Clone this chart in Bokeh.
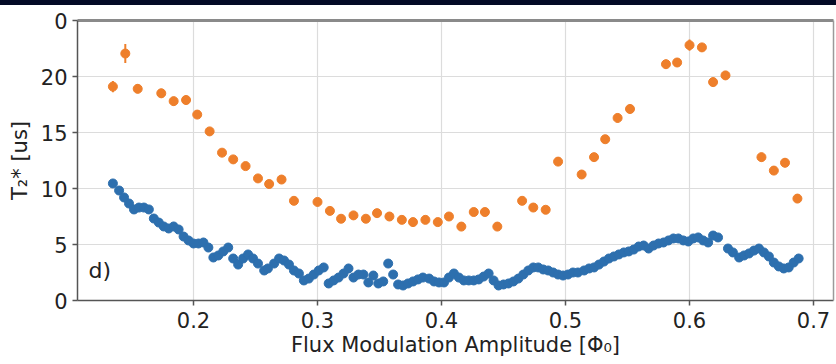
from bokeh.plotting import figure
from bokeh.models import FixedTicker, LinearAxis, Label, Range1d, Div
from bokeh.layouts import column
from bokeh.embed import file_html
from bokeh.resources import INLINE

x_ticks = [0.2, 0.3, 0.4, 0.5, 0.6, 0.7]
y_ticks = [0, 5, 10, 15, 20, 25]
y_tick_labels = {25: "0"}

orange_x = [0.135, 0.145, 0.155, 0.174, 0.184, 0.194, 0.203, 0.213, 0.223, 0.232,
            0.242, 0.252, 0.261, 0.271, 0.281, 0.300, 0.310, 0.319, 0.329, 0.339,
            0.348, 0.358, 0.368, 0.377, 0.387, 0.397, 0.406, 0.416, 0.426, 0.435,
            0.445, 0.465, 0.474, 0.484, 0.494, 0.513, 0.523, 0.532, 0.542, 0.552,
            0.581, 0.590, 0.600, 0.610, 0.619, 0.629, 0.658, 0.668, 0.677, 0.687]
orange_y = [19.1, 22.05, 18.9, 18.5, 17.8, 17.9, 16.6, 15.1, 13.2, 12.6,
            12.0, 10.9, 10.4, 10.8, 8.9, 8.8, 8.0, 7.3, 7.6, 7.3,
            7.8, 7.5, 7.2, 7.0, 7.2, 7.0, 7.5, 6.6, 7.9, 7.9,
            6.6, 8.9, 8.3, 8.1, 12.4, 11.25, 12.8, 14.4, 16.3, 17.1,
            21.1, 21.25, 22.8, 22.6, 19.5, 20.1, 12.8, 11.6, 12.3, 9.1]
orange_err = [0.5, 0.85, 0.4, 0.4, 0.4, 0.4, 0.3, 0.3, 0.3, 0.3,
              0.3, 0.3, 0.3, 0.3, 0.3, 0.3, 0.3, 0.3, 0.3, 0.3,
              0.3, 0.3, 0.3, 0.3, 0.3, 0.3, 0.3, 0.3, 0.3, 0.3,
              0.3, 0.3, 0.3, 0.3, 0.4, 0.3, 0.3, 0.3, 0.4, 0.4,
              0.4, 0.4, 0.5, 0.4, 0.4, 0.4, 0.4, 0.4, 0.4, 0.4]

blue_x = [0.135, 0.140, 0.144, 0.148, 0.152, 0.156, 0.160, 0.164, 0.168, 0.172,
          0.176, 0.180, 0.184, 0.188, 0.192, 0.196, 0.200, 0.204, 0.208, 0.212,
          0.216, 0.220, 0.224, 0.228, 0.232, 0.236, 0.240, 0.244, 0.248, 0.252,
          0.257, 0.260, 0.265, 0.269, 0.273, 0.277, 0.281, 0.285, 0.289, 0.293,
          0.297, 0.301, 0.305, 0.309, 0.313, 0.317, 0.321, 0.325, 0.329, 0.333,
          0.337, 0.341, 0.345, 0.349, 0.353, 0.357, 0.361, 0.365, 0.369, 0.373,
          0.377, 0.381, 0.385, 0.390, 0.394, 0.398, 0.402, 0.406, 0.410, 0.414,
          0.418, 0.422, 0.426, 0.430, 0.434, 0.438, 0.442, 0.446, 0.450, 0.454,
          0.458, 0.462, 0.466, 0.470, 0.474, 0.478, 0.482, 0.486, 0.490, 0.494,
          0.498, 0.502, 0.506, 0.510, 0.515, 0.519, 0.523, 0.527, 0.531, 0.535,
          0.539, 0.543, 0.547, 0.551, 0.555, 0.559, 0.563, 0.567, 0.571, 0.575,
          0.579, 0.583, 0.587, 0.591, 0.595, 0.599, 0.603, 0.607, 0.611, 0.615,
          0.619, 0.623,
          0.631, 0.635, 0.640, 0.644, 0.648, 0.652, 0.656, 0.660, 0.664, 0.668,
          0.672, 0.676, 0.680, 0.684, 0.688]
blue_y = [10.45, 9.82, 9.20, 8.66, 8.13, 8.30, 8.30, 8.13, 7.32, 6.96,
          6.61, 6.43, 6.61, 6.34, 5.71, 5.36, 5.09, 5.09, 5.18, 4.73,
          3.84, 4.02, 4.38, 4.73, 3.75, 3.21, 3.75, 4.11, 3.75, 3.30,
          2.68, 2.86, 3.30, 3.75, 3.57, 3.21, 2.68, 2.41, 1.79, 1.96,
          2.32, 2.68, 2.95, 1.52, 1.79, 2.05, 2.41, 2.86, 2.05, 2.32,
          2.32, 1.61, 2.23, 1.52, 1.70, 3.30, 2.32, 1.43, 1.34, 1.52,
          1.70, 1.88, 2.05, 1.96, 1.70, 1.61, 1.61, 2.05, 2.41, 2.05,
          1.79, 1.79, 1.79, 1.88, 2.14, 2.41, 1.79, 1.34, 1.43, 1.52,
          1.70, 1.96, 2.32, 2.68, 2.95, 2.95, 2.77, 2.68, 2.50, 2.32,
          2.23, 2.32, 2.50, 2.50, 2.68, 2.86, 2.95, 3.21, 3.48, 3.75,
          3.93, 4.11, 4.29, 4.38, 4.55, 4.82, 4.91, 4.64, 4.91, 5.09,
          5.18, 5.36, 5.54, 5.54, 5.36, 5.27, 5.54, 5.63, 5.36, 5.18,
          5.80, 5.63,
          4.64, 4.29, 3.84, 4.02, 4.20, 4.46, 4.64, 4.29, 3.93, 3.39,
          3.04, 2.86, 2.95, 3.39, 3.75]

ORANGE = "#ee7f2b"
BLUE = "#2d6fae"
FONT = "DejaVu Sans"

p = figure(width=836, height=359,
           x_range=Range1d(0.10645, 0.7161), y_range=Range1d(0, 25),
           output_backend="svg", toolbar_location=None,
           min_border_left=77, min_border_right=3,
           min_border_top=15, min_border_bottom=64)
p.outline_line_color = None
p.background_fill_color = "white"
p.border_fill_color = "white"

for ax in p.xaxis + p.yaxis:
    ax.axis_line_color = "#555555"
    ax.axis_line_width = 1.5
    ax.major_tick_line_color = "#555555"
    ax.major_tick_line_width = 1.5
    ax.major_tick_out = 5
    ax.major_tick_in = 0
    ax.minor_tick_line_color = None
    ax.major_label_text_font = FONT
    ax.major_label_text_font_size = "21px"
    ax.major_label_text_color = "#222222"
    ax.axis_label_text_font = FONT
    ax.axis_label_text_font_size = "21px"
    ax.axis_label_text_font_style = "normal"
    ax.axis_label_text_color = "#222222"

p.xaxis.ticker = FixedTicker(ticks=x_ticks)
p.yaxis.ticker = FixedTicker(ticks=y_ticks)
p.yaxis.major_label_overrides = y_tick_labels
p.xaxis.axis_label = "Flux Modulation Amplitude [Φ₀]"
p.yaxis.axis_label = "T₂* [us]"
p.xaxis.major_label_standoff = 6
p.xaxis.axis_label_standoff = 2
p.yaxis.major_label_standoff = 5
p.yaxis.axis_label_standoff = 6

top_ax = LinearAxis(ticker=FixedTicker(ticks=[]), axis_line_color="#8a8a8a",
                    axis_line_width=3, major_label_text_font_size="0px",
                    major_tick_line_color=None, minor_tick_line_color=None)
p.add_layout(top_ax, "above")
right_ax = LinearAxis(ticker=FixedTicker(ticks=[]), axis_line_color="#9a9a9a",
                      axis_line_width=1.5, major_label_text_font_size="0px",
                      major_tick_line_color=None, minor_tick_line_color=None)
p.add_layout(right_ax, "right")

p.xgrid.ticker = FixedTicker(ticks=x_ticks)
p.ygrid.ticker = FixedTicker(ticks=y_ticks)
p.grid.grid_line_color = "#dcdcdc"
p.grid.grid_line_width = 1.2

p.scatter(blue_x, blue_y, size=9, color=BLUE, line_color=BLUE)

lower = [y - e for y, e in zip(orange_y, orange_err)]
upper = [y + e for y, e in zip(orange_y, orange_err)]
p.segment(x0=orange_x, y0=lower, x1=orange_x, y1=upper, line_color=ORANGE, line_width=2)
p.scatter(orange_x, orange_y, size=9, color=ORANGE, line_color=ORANGE)

p.add_layout(Label(x=0.1153, y=1.6, text="d)", text_font=FONT,
                   text_font_size="22px", text_color="#222222"))

band = Div(width=836, height=5, styles={"background-color": "#030a26"}, margin=0)
layout = column(band, p, spacing=0)

open("out.html", "w").write(file_html(layout, INLINE))
